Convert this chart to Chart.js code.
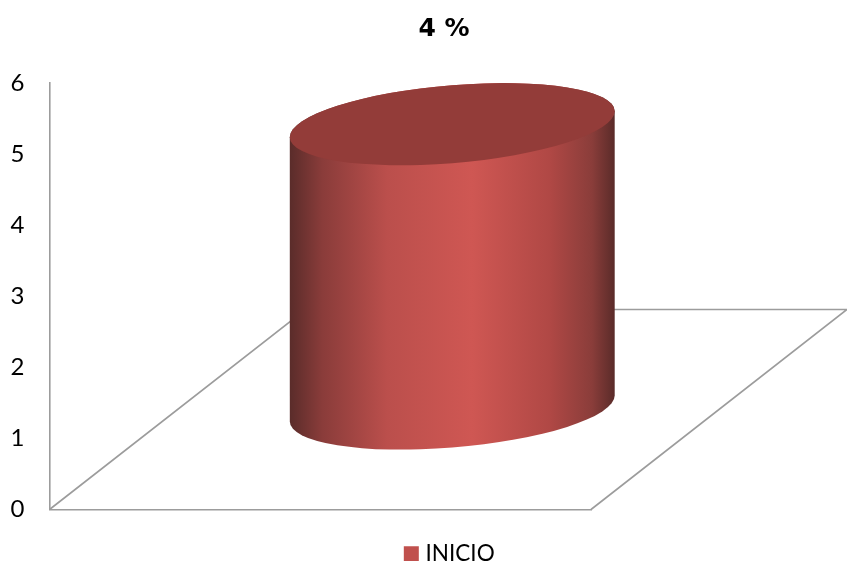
<!DOCTYPE html>
<html>
<head>
<meta charset="utf-8">
<style>
  html, body { margin: 0; padding: 0; background: #fff; overflow: hidden; }
  #wrap { position: relative; width: 847px; height: 561px; }
</style>
<script src="https://cdn.jsdelivr.net/npm/chart.js@4/dist/chart.umd.min.js"></script>
</head>
<body>
<div id="wrap"><canvas id="grafico"></canvas></div>
<script>
const categorias = ["INICIO"];
const serieNombre = "INICIO";
const serieValores = [4];
const yTicks = [0, 1, 2, 3, 4, 5, 6];
const titulo = "4 %";

// desplazamiento del suelo en perspectiva
const fondoX = 256, fondoY = -200;
const gris = "#9c9c9c";

function pintarSuelo(chart) {
  const { ctx, scales } = chart;
  const x0 = scales.x.left, x1 = scales.x.right, y0 = scales.y.getPixelForValue(0);
  ctx.save();
  ctx.strokeStyle = gris;
  ctx.lineWidth = 1.6;
  ctx.beginPath();
  ctx.moveTo(x0, y0);
  ctx.lineTo(x0 + fondoX, y0 + fondoY);
  ctx.lineTo(x1 + fondoX, y0 + fondoY);
  ctx.lineTo(x1, y0);
  ctx.stroke();
  ctx.restore();
}

function pintarCilindro(chart, bar) {
  const ctx = chart.ctx;
  const a = bar.width / 2;
  const b = 39;
  const alto = bar.base - bar.y;
  const cx = bar.x + 132;
  const cy = bar.y - 101;

  ctx.save();
  ctx.transform(1, -0.08, 0, 1, cx, cy);

  const g = ctx.createLinearGradient(-a, 0, a, 0);
  g.addColorStop(0, "#5a2c2a");
  g.addColorStop(0.1, "#8a3c3a");
  g.addColorStop(0.3, "#bb4f4c");
  g.addColorStop(0.56, "#cf5753");
  g.addColorStop(0.8, "#b04845");
  g.addColorStop(0.93, "#8a3d3a");
  g.addColorStop(1, "#5a2b29");

  ctx.fillStyle = g;
  ctx.beginPath();
  ctx.ellipse(0, alto, a, b, 0, 0, Math.PI);
  ctx.ellipse(0, 0, a, b, 0, Math.PI, 2 * Math.PI);
  ctx.closePath();
  ctx.fill();

  ctx.fillStyle = "#933c39";
  ctx.beginPath();
  ctx.ellipse(0, 0, a, b, 0, 0, 2 * Math.PI);
  ctx.fill();
  ctx.restore();
}

const cilindro3d = {
  id: "cilindro3d",
  afterLayout(chart) {
    // titulo y leyenda no van centrados en el lienzo
    const centrar = (box, c) => {
      const w = box.right - box.left;
      box.left = c - w / 2;
      box.right = c + w / 2;
    };
    centrar(chart.titleBlock, 444);
    centrar(chart.legend, 451.5);
    chart.legend.top += 11;
    chart.legend.bottom += 11;
  },
  beforeDatasetsDraw(chart) {
    pintarSuelo(chart);
  },
  beforeDatasetDraw(chart, args) {
    args.meta.data.forEach((bar) => pintarCilindro(chart, bar));
    return false;
  }
};

new Chart(document.getElementById("grafico"), {
  type: "bar",
  data: {
    labels: categorias,
    datasets: [{
      label: serieNombre,
      data: serieValores,
      backgroundColor: "#c0504d",
      borderColor: "#c0504d",
      borderWidth: 9,
      borderJoinStyle: "miter",
      barPercentage: 1,
      categoryPercentage: 0.6
    }]
  },
  options: {
    responsive: true,
    maintainAspectRatio: false,
    animation: false,
    layout: { padding: { left: 0, right: 256, top: 0, bottom: -3 } },
    plugins: {
      tooltip: { enabled: false },
      title: {
        display: true,
        text: titulo,
        color: "#000",
        font: { family: "DejaVu Sans", size: 25, weight: "bold" },
        padding: { top: 14, bottom: 39 }
      },
      legend: {
        position: "bottom",
        labels: {
          color: "#000",
          boxWidth: 6,
          boxHeight: 6,
          padding: 0,
          font: { family: "Lato", size: 22.5 }
        }
      }
    },
    scales: {
      x: {
        grid: { display: false },
        ticks: { display: false },
        border: { display: true, color: gris, width: 1.6 },
        afterFit(scale) { scale.height = 22; }
      },
      y: {
        min: yTicks[0],
        max: yTicks[yTicks.length - 1],
        grid: { display: false, drawTicks: false },
        border: { display: true, color: gris, width: 1.6 },
        ticks: {
          stepSize: 1,
          color: "#000",
          padding: 25,
          font: { family: "Lato", size: 24 }
        },
        afterFit(scale) { scale.width = 49.5; }
      }
    }
  },
  plugins: [cilindro3d]
});
</script>
</body>
</html>
